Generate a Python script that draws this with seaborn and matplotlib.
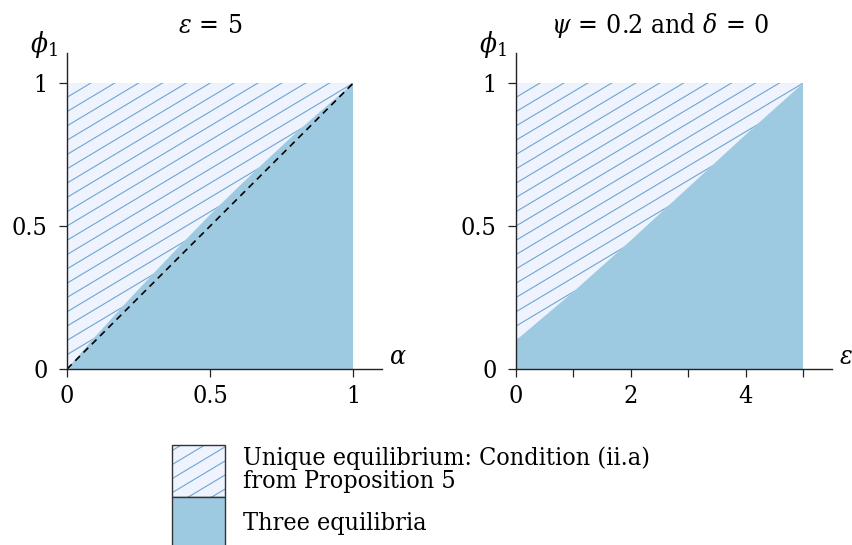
import numpy as np
import matplotlib
matplotlib.use("Agg")
import matplotlib.pyplot as plt
import seaborn as sns
from matplotlib.patches import Rectangle
from matplotlib.lines import Line2D
from matplotlib.legend_handler import HandlerBase

# boundary of the unique-equilibrium region
alpha = [0, 0.1, 0.2, 0.3, 0.4, 0.5, 0.6, 0.7, 0.8, 0.9, 1.0]
phi_alpha = [0, 0.115, 0.225, 0.332, 0.437, 0.54, 0.638, 0.733, 0.826, 0.914, 1.0]
eps = [0, 1, 2, 3, 4, 5]
phi_eps = [0.1, 0.27, 0.45, 0.635, 0.82, 1.0]

alpha_ticks = [0, 0.5, 1]
alpha_labels = ["0", "0.5", "1"]
eps_ticks = [0, 1, 2, 3, 4, 5]
eps_labels = ["0", "", "2", "", "4", ""]
phi_ticks = [0, 0.5, 1]
phi_labels = ["0", "0.5", "1"]

label_unique = "Unique equilibrium: Condition (ii.a)\nfrom Proposition 5"
label_three = "Three equilibria"

dark = "#9ecae1"
light = "#eef3fd"
hatch_c = "#6ea6d4"
axis_c = "#222222"
fs = 18

sns.set_theme(style="ticks")
plt.rcParams["font.family"] = ["DejaVu Serif"]
plt.rcParams["font.stretch"] = "condensed"
plt.rcParams["mathtext.fontset"] = "dejavuserif"
plt.rcParams["text.color"] = "black"

W, H = 852, 545
fig = plt.figure(figsize=(W / 100, H / 100), dpi=100)
ax1 = fig.add_axes([67 / W, 1 - 369 / H, 315 / W, 316 / H])
ax2 = fig.add_axes([516 / W, 1 - 369 / H, 316 / W, 316 / H])


def draw_regions(ax, x, y, slope):
    x = list(x)
    y = list(y)
    ax.fill_between(x, 0, 1, color=dark, lw=0)
    patch = ax.fill(x + [0], y + [1], color=light, lw=0)[0]
    for b in np.round(np.arange(-1.5, 1.0, 0.05), 3):
        ln, = ax.plot([0, x[-1]], [b, b + slope * x[-1]], color=hatch_c, lw=0.8)
        ln.set_clip_path(patch)


draw_regions(ax1, alpha, phi_alpha, 0.6)
sns.lineplot(x=alpha, y=alpha, ax=ax1, color="black", lw=1.2, linestyle=(0, (4, 3)))
draw_regions(ax2, eps, phi_eps, 0.12)

panels = [
    (ax1, 1.1, alpha_ticks, alpha_labels, r"$\alpha$", r"$\varepsilon\, =\, 5$", 0.5),
    (ax2, 5.5, eps_ticks, eps_labels, r"$\varepsilon$",
     r"$\psi\, =\, 0.2$ and $\delta\, =\, 0$", 2.5),
]
for ax, xmax, xt, xl, xlab, title, xc in panels:
    ax.set_xlim(0, xmax)
    ax.set_ylim(0, 1.105)
    ax.set_xticks(xt)
    ax.set_xticklabels(xl)
    ax.set_yticks(phi_ticks)
    ax.set_yticklabels(phi_labels)
    for s in ["top", "right"]:
        ax.spines[s].set_visible(False)
    for s in ["left", "bottom"]:
        ax.spines[s].set_color(axis_c)
        ax.spines[s].set_linewidth(1.0)
        ax.spines[s].set_zorder(5)
    ax.tick_params(direction="out", length=6, width=0.9, color=axis_c,
                   labelsize=fs, labelcolor="black")
    ax.tick_params(axis="x", pad=5.5)
    ax.tick_params(axis="y", pad=8)
    ax.set_facecolor("none")
    ax.annotate(xlab, xy=(1, 0), xycoords="axes fraction", xytext=(7, 12),
                textcoords="offset pixels", ha="left", va="center", fontsize=fs + 1)
    ax.annotate(r"$\phi_1$", xy=(0, 1), xycoords="axes fraction", xytext=(-9, 8),
                textcoords="offset pixels", ha="right", va="center", fontsize=fs + 2)
    ax.annotate(title, xy=(xc, 1), xycoords=("data", "axes fraction"), xytext=(0, 20),
                textcoords="offset pixels", ha="center", va="baseline", fontsize=fs + 1)


class BoxHandler(HandlerBase):
    def __init__(self, hatched):
        super().__init__()
        self.hatched = hatched

    def create_artists(self, legend, orig_handle, xdescent, ydescent,
                       width, height, fontsize, trans):
        x0, y0 = -xdescent, -ydescent
        face = Rectangle((x0, y0), width, height, facecolor=orig_handle.get_facecolor(),
                         edgecolor="none", transform=trans)
        out = [face]
        if self.hatched:
            step = height / 3.7
            for k in range(-8, 5):
                b = y0 + (k + 0.3) * step
                ln = Line2D([x0, x0 + width], [b, b + 0.6 * width], color=hatch_c,
                            lw=0.8, transform=trans)
                ln.set_clip_path(face)
                out.append(ln)
        edge = Rectangle((x0, y0), width, height, facecolor="none",
                         edgecolor="#333333", lw=1.0, transform=trans)
        out.append(edge)
        return out


h1 = Rectangle((0, 0), 1, 1, facecolor=light)
h2 = Rectangle((0, 0), 1, 1, facecolor=dark)
box_h = 52 * 0.72
leg = fig.legend([h1, h2], [label_unique, label_three], loc="upper left",
                 bbox_to_anchor=(172 / W, 1 - 445 / H), frameon=False, borderpad=0,
                 borderaxespad=0, handlelength=53 * 0.72 / fs,
                 handleheight=(box_h / fs - 0.245) / 0.65,
                 handletextpad=18 * 0.72 / fs, labelspacing=0, fontsize=fs,
                 handler_map={h1: BoxHandler(True), h2: BoxHandler(False)})
for t in leg.get_texts():
    t.set_linespacing(1.0)

fig.savefig("out.png", dpi=100)
